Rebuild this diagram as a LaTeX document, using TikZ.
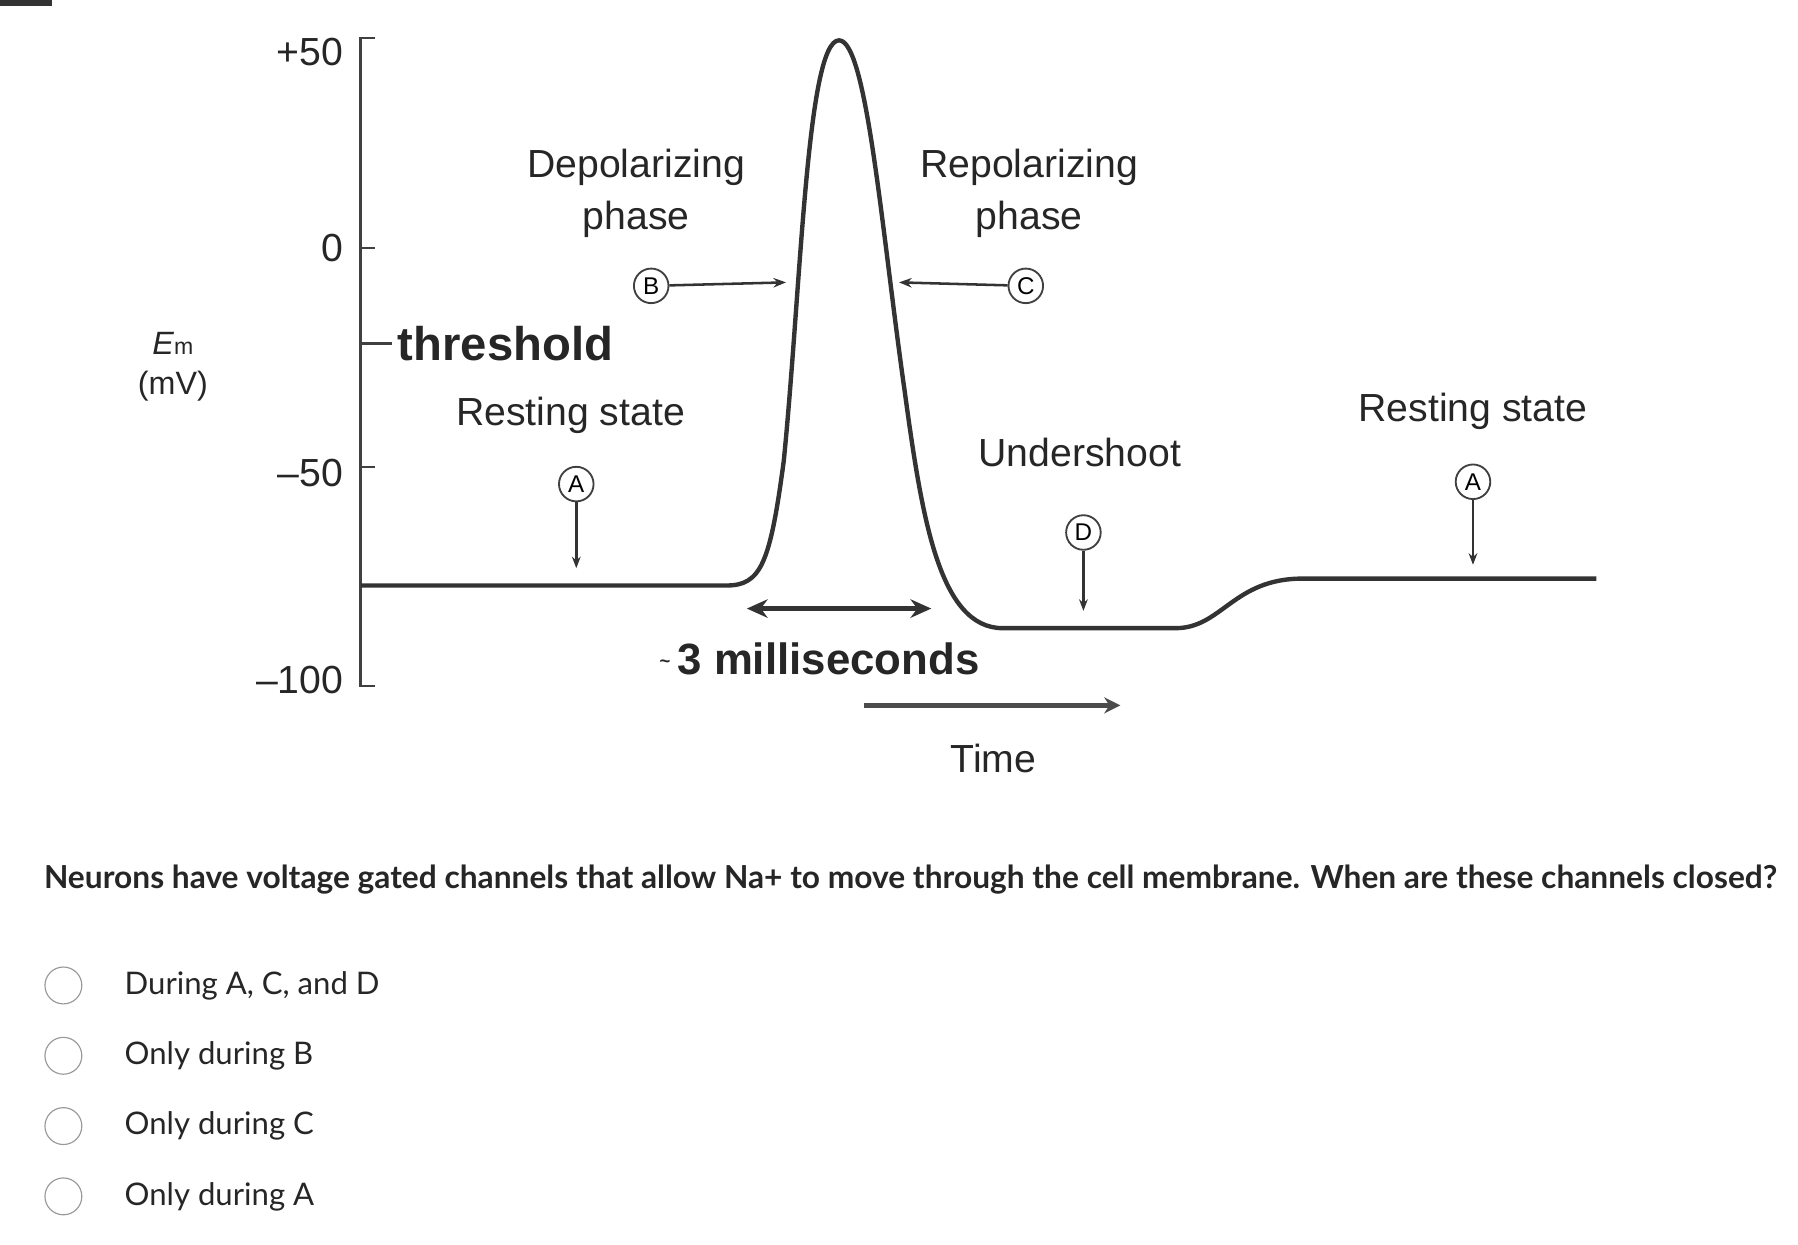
\documentclass[tikz,border=0pt]{standalone}
\usepackage{fontspec}
\setmainfont{Liberation Sans}
\newfontfamily\lato{Lato}
\usetikzlibrary{arrows.meta}
\begin{document}
\begin{tikzpicture}[x=1pt,y=-1pt,
  lab/.style={font=\fontsize{34}{36}\selectfont, text=black!85, inner sep=0pt},
  circ/.style={draw=black!75, circle, line width=1.6pt, inner sep=0pt, minimum size=30pt, font=\fontsize{21}{21}\selectfont},
  ax/.style={line width=2.2pt, black!75},
  opt/.style={draw=black!40, line width=1pt, circle, minimum size=32pt, inner sep=0pt},
  opttxt/.style={font=\lato\fontsize{27}{30}\selectfont, anchor=west, inner sep=0pt}]
\useasboundingbox (0,0) rectangle (1560,1080);
\fill[black!80] (0,0) rectangle (45,5);
% axis
\draw[ax] (325,33) -- (313,33) -- (313,595) -- (325,595);
\draw[ax] (313,215) -- (325,215);
\draw[ax] (313,405) -- (325,405);
\draw[ax] (313,298) -- (340,298);
\node[lab,anchor=east] (p50) at (298,45) {+50};
\node[lab,anchor=east] (z) at (298,215) {0};
\node[lab,anchor=east] (m50) at (298,410) {\textendash50};
\node[lab,anchor=east] (m100) at (298,590) {\textendash100};
\node[lab,font=\fontsize{28}{30}\selectfont] (em) at (150,298) {\textit{E}{\fontsize{20}{20}\selectfont m}};
\node[lab,font=\fontsize{28}{30}\selectfont] (mv) at (150,335) {(mV)};
% curve
\draw[line width=3.8pt, black!80] (313,508) -- (630,508)
  .. controls (660,508) and (668,490) .. (680,400)
  .. controls (695,250) and (700,35) .. (728,35)
  .. controls (752,35) and (765,200) .. (785,340)
  .. controls (800,450) and (815,545) .. (870,545)
  -- (1020,545) .. controls (1060,545) and (1070,502) .. (1130,502) -- (1385,502);
% labels
\node[lab] (dep) at (552,145) {Depolarizing};
\node[lab] (dep2) at (552,190) {phase};
\node[circ] (B) at (565,248) {B};
\coordinate (Bt) at (682,245);
\draw[line width=2.2pt,black!80,-{Stealth[length=11pt]}] (B) -- (Bt);
\node[lab] (rep) at (893,145) {Repolarizing};
\node[lab] (rep2) at (893,190) {phase};
\node[circ] (C) at (890,248) {C};
\coordinate (Ct) at (780,245);
\draw[line width=2.2pt,black!80,-{Stealth[length=11pt]}] (C) -- (Ct);
\node[lab,anchor=west,font=\bfseries\fontsize{41}{44}\selectfont] (th) at (345,298) {threshold};
\node[lab] (rs1) at (495,360) {Resting state};
\node[circ] (A1) at (500,420) {A};
\coordinate (A1t) at (500,493);
\draw[line width=2.2pt,black!80,-{Stealth[length=10pt]}] (A1) -- (A1t);
\node[lab] (us) at (937,393) {Undershoot};
\node[circ] (D) at (940,462) {D};
\coordinate (Dt) at (940,530);
\draw[line width=2.2pt,black!80,-{Stealth[length=10pt]}] (D) -- (Dt);
\node[lab] (rs2) at (1278,357) {Resting state};
\node[circ] (A2) at (1278,418) {A};
\coordinate (A2t) at (1278,490);
\draw[line width=2.2pt,black!80,-{Stealth[length=10pt]}] (A2) -- (A2t);
\coordinate (d1) at (648,528); \coordinate (d2) at (808,528);
\draw[line width=3.8pt,black!80,{Stealth[length=18pt,width=16pt]}-{Stealth[length=18pt,width=16pt]}] (d1) -- (d2);
\node[lab,anchor=west,font=\bfseries\fontsize{38}{40}\selectfont] (ms) at (572,572) {\raisebox{6pt}{\fontsize{16}{16}\selectfont\textasciitilde}\,3 milliseconds};
\coordinate (t1) at (750,612); \coordinate (t2) at (972,612);
\draw[line width=3.8pt,black!70,-{Stealth[length=14pt,width=14pt]}] (t1) -- (t2);
\node[lab] (time) at (862,658) {Time};
% question
\node[font=\lato\bfseries\fontsize{27.5}{30}\selectfont,text=black!85,anchor=west,inner sep=0pt] (q) at (38,763) {Neurons have voltage gated channels that allow Na+ to move through the cell membrane. When are these channels closed?};
\foreach \y/\t/\n in {855/{During A, C, and D}/o1, 916/{Only during B}/o2, 977/{Only during C}/o3, 1038/{Only during A}/o4}{
  \node[opt] (\n c) at (55,\y) {};
  \node[opttxt,text=black!85] (\n) at (108,\y) {\t};
}
\end{tikzpicture}
\end{document}
